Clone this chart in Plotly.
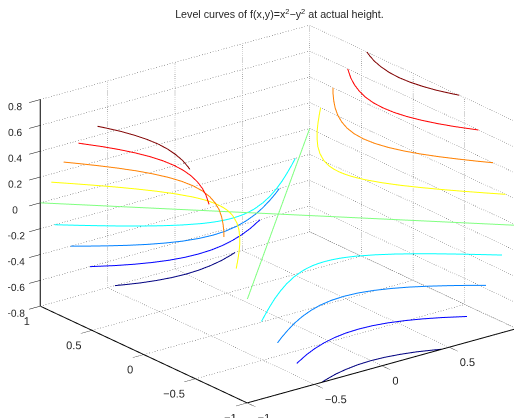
import plotly.graph_objects as go

X_TICKS = [-1, -0.5, 0, 0.5, 1]
Y_TICKS = [-1, -0.5, 0, 0.5, 1]
Z_TICKS = [-0.8, -0.6, -0.4, -0.2, 0, 0.2, 0.4, 0.6, 0.8]
X_LABELS = ["\u22121", "\u22120.5", "0", "0.5", "1"]
Y_LABELS = ["\u22121", "\u22120.5", "0", "0.5", "1"]
Z_LABELS = ["\u22120.8", "\u22120.6", "\u22120.4", "\u22120.2", "0", "0.2", "0.4", "0.6", "0.8"]

LEVELS = [0.8, 0.6, 0.4, 0.2, 0.0, -0.2, -0.4, -0.6, -0.8]
COLORS = ["#800000", "#ff0000", "#ff8000", "#ffff00", "#80ff80", "#00ffff", "#0080ff", "#0000ff", "#000080"]
# half-branch tables: distance along the axis of the branch (far) and across it (near)
FAR_08 = [0.894, 0.900, 0.917, 0.943, 0.980, 1.0]
NEAR_08 = [0, 0.1, 0.2, 0.3, 0.4, 0.447]
FAR_06 = [0.775, 0.781, 0.800, 0.831, 0.872, 0.922, 1.0]
NEAR_06 = [0, 0.1, 0.2, 0.3, 0.4, 0.5, 0.632]
FAR_04 = [0.632, 0.640, 0.663, 0.700, 0.748, 0.806, 0.872, 0.943, 1.0]
NEAR_04 = [0, 0.1, 0.2, 0.3, 0.4, 0.5, 0.6, 0.7, 0.775]
FAR_02 = [0.447, 0.450, 0.458, 0.472, 0.490, 0.539, 0.600, 0.671, 0.748, 0.831, 0.917, 1.0]
NEAR_02 = [0, 0.05, 0.1, 0.15, 0.2, 0.3, 0.4, 0.5, 0.6, 0.7, 0.8, 0.894]
FAR_00 = [0, 1.0]
NEAR_00 = [0, 1.0]
TABLE = {0.8: (FAR_08, NEAR_08), 0.6: (FAR_06, NEAR_06), 0.4: (FAR_04, NEAR_04), 0.2: (FAR_02, NEAR_02)}

fig = go.Figure()
GRID = dict(mode="lines", hoverinfo="skip", showlegend=False,
            line=dict(color="#555555", width=1, dash="dot"))
x0, x1, y0, y1, z0, z1 = -1, 1, -1, 1, -0.8, 0.8
for t in X_TICKS:
    fig.add_trace(go.Scatter3d(x=[t, t, t], y=[y0, y1, y1], z=[z0, z0, z1], **GRID))
for t in Y_TICKS:
    fig.add_trace(go.Scatter3d(x=[x0, x1, x1], y=[t, t, t], z=[z0, z0, z1], **GRID))
for t in Z_TICKS:
    fig.add_trace(go.Scatter3d(x=[x0, x1, x1], y=[y1, y1, y0], z=[t, t, t], **GRID))

AXIS = dict(mode="lines", hoverinfo="skip", showlegend=False, line=dict(color="black", width=2))
fig.add_trace(go.Scatter3d(x=[x0, x1], y=[y0, y0], z=[z0, z0], **AXIS))
fig.add_trace(go.Scatter3d(x=[x0, x0], y=[y0, y1], z=[z0, z0], **AXIS))
fig.add_trace(go.Scatter3d(x=[x0, x0], y=[y1, y1], z=[z0, z1], **AXIS))

def add(xs, ys, z, color):
    fig.add_trace(go.Scatter3d(x=xs, y=ys, z=[z] * len(xs), mode="lines", showlegend=False,
                               line=dict(color=color, width=2)))

for lev, col in zip(LEVELS, COLORS):
    if lev == 0:
        add([-FAR_00[1], FAR_00[1]], [-NEAR_00[1], NEAR_00[1]], lev, col)
        add([-FAR_00[1], FAR_00[1]], [NEAR_00[1], -NEAR_00[1]], lev, col)
        continue
    far, near = TABLE[abs(lev)]
    across = [-v for v in near[::-1]] + near[1:]
    along = far[::-1] + far[1:]
    for sign in (-1, 1):
        if lev > 0:
            add([sign * u for u in along], across, lev, col)
        else:
            add(across, [sign * u for u in along], lev, col)

FONT = dict(family="Liberation Sans, Arial, sans-serif", size=11, color="#262626")
fig.add_trace(go.Scatter3d(x=X_TICKS, y=[y0] * 5, z=[z0] * 5, mode="text", text=X_LABELS,
                           textposition="bottom right", textfont=FONT, hoverinfo="skip", showlegend=False))
fig.add_trace(go.Scatter3d(x=[x0] * 5, y=Y_TICKS, z=[z0] * 5, mode="text", text=Y_LABELS,
                           textposition="bottom left", textfont=FONT, hoverinfo="skip", showlegend=False))

def axis(vals, labels, rng, show=True):
    return dict(range=rng, autorange=False, tickmode="array", tickvals=vals, ticktext=labels,
                showgrid=False, zeroline=False, showline=False, showbackground=False,
                ticks="outside", ticklen=14, tickcolor="black", tickwidth=1, title=dict(text=""),
                tickfont=FONT, tickangle=0, showspikes=False, showticklabels=show)

R = 1.0
S = 1.625
K = 0.045
KZ = -0.015
fig.update_layout(
    width=522, height=418, margin=dict(l=0, r=0, t=0, b=0), paper_bgcolor="white",
    showlegend=False,
    title=dict(text="Level curves of f(x,y)=x<sup>2</sup>\u2212y<sup>2</sup> at actual height.",
               x=0.52, y=0.985, xanchor="center", yanchor="middle",
               font=dict(family="Liberation Sans, Arial, sans-serif", size=10.7, color="#262626")),
    scene=dict(
        domain=dict(x=[0, 1], y=[0, 1]),
        xaxis=axis(X_TICKS, X_LABELS, [x0, x1], show=False),
        yaxis=axis(Y_TICKS, Y_LABELS, [y0, y1], show=False),
        zaxis=axis(Z_TICKS, Z_LABELS, [z0, z1]),
        aspectmode="manual", aspectratio=dict(x=S, y=S, z=0.652 * S),
        camera=dict(projection=dict(type="orthographic"),
                    up=dict(x=0, y=0, z=1), center=dict(x=-K * 0.793, y=K * 0.609, z=KZ),
                    eye=dict(x=-0.609 * R - K * 0.793, y=-0.793 * R + K * 0.609, z=0.385 * R + KZ)),
    ),
)
fig.write_html("out.html")
